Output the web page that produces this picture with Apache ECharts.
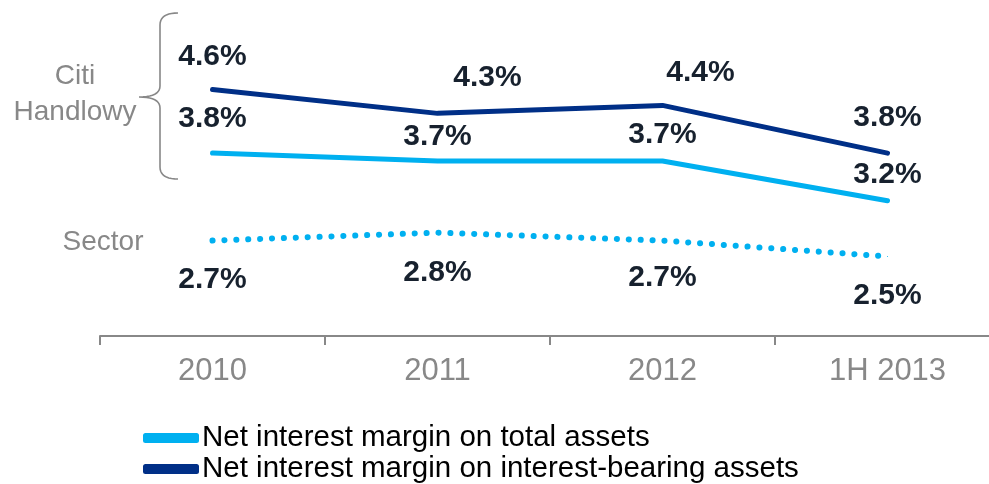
<!DOCTYPE html>
<html>
<head>
<meta charset="utf-8">
<script src="https://cdn.jsdelivr.net/npm/echarts@6/dist/echarts.min.js"></script>
<style>
  html, body { margin: 0; padding: 0; background: #fff; }
  #chart { width: 989px; height: 484px; }
</style>
</head>
<body>
<div id="chart"></div>
<script>
// chart data
var categories = ['2010', '2011', '2012', '1H 2013']
var totalAssets = [3.8, 3.7, 3.7, 3.2]
var interestBearing = [4.6, 4.3, 4.4, 3.8]
var sector = [2.7, 2.8, 2.7, 2.5]

// label nudges [dx, dy] per point, as in the original slide
var interestBearingShift = [[0, -33], [50, -36], [38, -33], [0, -35]]
var totalAssetsShift = [[0, -34], [0, -24], [0, -26], [0, -26]]
var sectorShift = [[0, 39], [0, 40], [0, 37], [0, 39]]

var FONT = 'Liberation Sans, Arial, sans-serif'
var LABEL_COLOR = '#17212e'
var DARK = '#002f87'
var LIGHT = '#00b0f0'

function withLabels(values, shifts) {
  return values.map(function (v, i) {
    return {
      value: v,
      label: { offset: shifts[i] }
    }
  })
}

// curly bracket beside "Citi Handlowy" (pure decoration)
function bracketPoints() {
  var pts = []
  function quad(p0, c, p1) {
    for (var t = 0; t <= 1.0001; t += 0.1) {
      var a = (1 - t) * (1 - t), b = 2 * (1 - t) * t, d = t * t
      pts.push([a * p0[0] + b * c[0] + d * p1[0], a * p0[1] + b * c[1] + d * p1[1]])
    }
  }
  quad([178, 13], [160, 13], [160, 25])
  quad([160, 86], [160, 97], [139, 97])
  quad([139, 97], [160, 97], [160, 108])
  quad([160, 167], [160, 179], [178, 179])
  return pts
}

var labelStyle = {
  show: true,
  position: 'inside',
  formatter: function (p) { return p.value.toFixed(1) + '%' },
  fontFamily: FONT,
  fontSize: 30,
  fontWeight: 'bold',
  color: LABEL_COLOR
}

var chart = echarts.init(document.getElementById('chart'))
chart.setOption({
  animation: false,
  grid: {
    left: 100,
    width: 900,
    top: 10,
    height: 326,
    outerBoundsMode: 'none'
  },
  legend: {
    orient: 'vertical',
    left: 143,
    top: 423,
    height: 80,
    padding: 0,
    itemWidth: 56,
    itemHeight: 10,
    itemGap: 1,
    data: [
      { name: 'Net interest margin on total assets', icon: 'roundRect', itemStyle: { color: LIGHT } },
      { name: 'Net interest margin on interest-bearing assets', icon: 'roundRect', itemStyle: { color: DARK } }
    ],
    textStyle: {
      fontFamily: FONT,
      fontSize: 29.5,
      color: '#000',
      padding: [0, 0, 0, -2]
    }
  },
  xAxis: {
    type: 'category',
    data: categories,
    boundaryGap: true,
    axisLine: { lineStyle: { color: '#888', width: 2 } },
    axisTick: { show: true, length: 9, lineStyle: { color: '#888', width: 2 } },
    axisLabel: {
      fontFamily: FONT,
      fontSize: 31,
      color: '#888',
      margin: 20
    }
  },
  yAxis: {
    type: 'value',
    show: false,
    min: 1.5,
    max: 5.6
  },
  graphic: [
    {
      type: 'text',
      x: 75,
      y: 58,
      style: {
        text: 'Citi\nHandlowy',
        fill: '#888',
        font: '28px ' + FONT,
        align: 'center',
        lineHeight: 36
      }
    },
    {
      type: 'text',
      x: 103,
      y: 242,
      style: {
        text: 'Sector',
        fill: '#888',
        font: '28px ' + FONT,
        align: 'center',
        verticalAlign: 'middle'
      }
    },
    {
      type: 'polyline',
      shape: { points: bracketPoints() },
      style: { fill: null, stroke: '#888', lineWidth: 1.6 }
    }
  ],
  series: [
    {
      name: 'Net interest margin on total assets',
      type: 'line',
      data: withLabels(totalAssets, totalAssetsShift),
      symbol: 'circle',
      symbolSize: 1,
      itemStyle: { color: LIGHT },
      lineStyle: { color: LIGHT, width: 5, cap: 'round' },
      label: labelStyle,
      z: 3
    },
    {
      name: 'Net interest margin on interest-bearing assets',
      type: 'line',
      data: withLabels(interestBearing, interestBearingShift),
      symbol: 'circle',
      symbolSize: 1,
      itemStyle: { color: DARK },
      lineStyle: { color: DARK, width: 5, cap: 'round' },
      label: labelStyle,
      z: 3
    },
    {
      name: 'Sector',
      type: 'line',
      data: withLabels(sector, sectorShift),
      symbol: 'circle',
      symbolSize: 1,
      itemStyle: { color: LIGHT },
      lineStyle: { color: LIGHT, width: 6, type: [0.1, 11.8], cap: 'round' },
      label: labelStyle,
      z: 3
    }
  ]
})
</script>
</body>
</html>
